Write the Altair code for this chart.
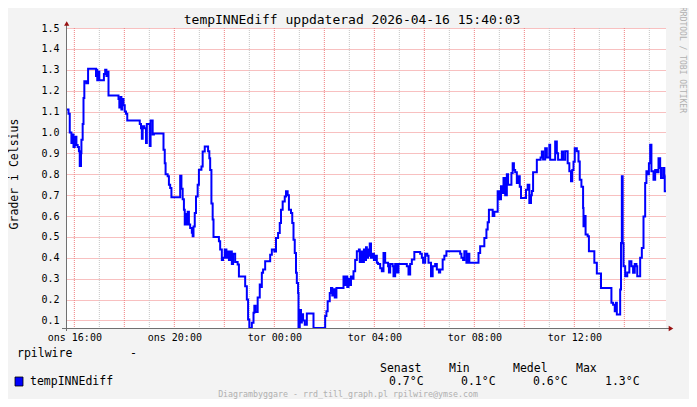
import altair as alt
import pandas as pd

FONT = "DejaVu Sans Mono"

# Minutes after 2026-04-15 15:40 and measured value (Grader i Celsius)
minutes_a = [0, 6, 9, 13, 15, 18, 21, 25, 28, 31,
             33, 36, 37, 40, 42, 44, 49, 53, 72, 73,
             75, 78, 80, 91, 94, 97, 99, 102, 126, 128,
             131, 133, 135, 138, 141, 144, 147, 177, 180, 182,
             184, 188, 192, 194, 198, 201, 203, 208, 211]
values_a = [1.11, 1.09, 1.00, 0.95, 0.99, 0.93, 0.98, 0.94, 0.93, 0.91,
            0.84, 0.90, 0.965, 1.04, 1.165, 1.245, 1.235, 1.305, 1.27, 1.30,
            1.25, 1.29, 1.25, 1.28, 1.30, 1.27, 1.29, 1.177, 1.16, 1.12,
            1.17, 1.11, 1.16, 1.13, 1.10, 1.09, 1.057, 1.04, 1.02, 0.97,
            1.03, 1.02, 0.95, 1.04, 1.04, 0.935, 1.057, 0.99, 0.995]

minutes_b = [234, 237, 239, 244, 247, 250, 253, 274, 277, 280,
             283, 285, 287, 290, 292, 295, 298, 302, 304, 306,
             309, 312, 316, 319, 325, 328, 333, 341, 344, 346,
             349, 352, 354, 367, 370, 374, 377, 381, 385, 387,
             391, 394, 398, 401, 406, 412, 415, 430, 434, 437,
             440, 446, 450, 452, 455, 460, 465, 467, 470, 473,
             478, 490, 494, 500, 504, 509, 513, 516, 520, 525,
             528, 532, 535, 540, 543, 546, 549, 552, 554, 557,
             558]
values_b = [0.917, 0.853, 0.80, 0.79, 0.75, 0.734, 0.69, 0.793, 0.73, 0.68,
            0.63, 0.56, 0.61, 0.56, 0.62, 0.56, 0.543, 0.52, 0.503, 0.55,
            0.614, 0.694, 0.75, 0.822, 0.837, 0.909, 0.933, 0.91, 0.877, 0.82,
            0.66, 0.583, 0.50, 0.479, 0.44, 0.39, 0.40, 0.44, 0.40, 0.43,
            0.39, 0.43, 0.37, 0.42, 0.38, 0.368, 0.31, 0.264, 0.20, 0.105,
            0.06, 0.089, 0.137, 0.17, 0.14, 0.21, 0.272, 0.26, 0.328, 0.344,
            0.383, 0.415, 0.44, 0.43, 0.495, 0.519, 0.567, 0.63, 0.67, 0.694,
            0.718, 0.70, 0.63, 0.614, 0.567, 0.487, 0.423, 0.328, 0.28, 0.232,
            0.06]

minutes_c = [561, 564, 566, 569, 573, 578, 594, 622, 625, 628,
             633, 636, 639, 643, 645, 649, 666, 669, 672, 675,
             678, 681, 684, 687, 690, 694, 698]
values_c = [0.15, 0.09, 0.13, 0.10, 0.08, 0.133, 0.06, 0.121, 0.144, 0.192,
            0.232, 0.256, 0.22, 0.25, 0.21, 0.256, 0.31, 0.27, 0.31, 0.26,
            0.30, 0.27, 0.31, 0.30, 0.336, 0.39, 0.431]

minutes_d = [703, 705, 709, 711, 715, 717, 720, 722, 725, 727,
             729, 732, 735, 739, 742, 746, 749, 754, 758, 762,
             766, 773, 775, 778, 784, 786, 790, 794, 798, 818,
             822, 826, 830, 836, 850, 854, 857, 862, 867, 870,
             876, 880, 886, 890, 895, 898, 904, 908, 913, 946,
             949, 953, 956, 961, 964, 968, 990, 994, 1004, 1009]
values_d = [0.44, 0.38, 0.43, 0.38, 0.44, 0.39, 0.45, 0.40, 0.44, 0.41,
            0.468, 0.40, 0.42, 0.39, 0.41, 0.376, 0.37, 0.35, 0.336, 0.423,
            0.376, 0.36, 0.33, 0.37, 0.36, 0.312, 0.37, 0.33, 0.37, 0.36,
            0.32, 0.37, 0.392, 0.428, 0.42, 0.40, 0.376, 0.42, 0.41, 0.376,
            0.312, 0.36, 0.37, 0.344, 0.33, 0.344, 0.392, 0.41, 0.431, 0.42,
            0.40, 0.39, 0.431, 0.376, 0.42, 0.376, 0.423, 0.455, 0.495, 0.535]

minutes_e = [1012, 1015, 1024, 1028, 1036, 1040, 1044, 1047, 1050, 1054,
             1058, 1061, 1069, 1072, 1075, 1078, 1082, 1086, 1089, 1092,
             1104, 1108, 1112, 1116, 1118, 1121, 1130, 1139, 1142, 1145,
             1150, 1154, 1160, 1162, 1174, 1178, 1181, 1190, 1193, 1198,
             1204, 1208, 1212, 1215, 1218, 1221, 1226, 1230, 1233, 1237,
             1241, 1242, 1244, 1247, 1252, 1255, 1268, 1274, 1284]
values_e = [0.57, 0.63, 0.60, 0.62, 0.718, 0.68, 0.742, 0.71, 0.782, 0.70,
            0.80, 0.75, 0.806, 0.853, 0.82, 0.81, 0.758, 0.79, 0.74, 0.686,
            0.726, 0.75, 0.662, 0.70, 0.72, 0.809, 0.869, 0.88, 0.909, 0.87,
            0.925, 0.88, 0.941, 0.869, 0.957, 0.90, 0.869, 0.909, 0.869, 0.91,
            0.853, 0.814, 0.766, 0.82, 0.86, 0.925, 0.91, 0.861, 0.774, 0.74,
            0.638, 0.551, 0.60, 0.511, 0.503, 0.431, 0.376, 0.325, 0.256]

minutes_f = [1309, 1313, 1317, 1320, 1322, 1330, 1332, 1334, 1336, 1338,
             1342, 1347, 1352, 1357, 1361, 1365, 1369, 1371, 1378, 1382,
             1386, 1390, 1393, 1396, 1399, 1402, 1405, 1410, 1414, 1418,
             1422, 1426, 1428, 1433, 1436, 1437, 1440]
values_f = [0.185, 0.175, 0.144, 0.185, 0.129, 0.248, 0.471, 0.79, 0.47, 0.36,
            0.312, 0.33, 0.383, 0.36, 0.328, 0.37, 0.36, 0.312, 0.40, 0.447,
            0.598, 0.758, 0.814, 0.80, 0.853, 0.941, 0.814, 0.774, 0.82, 0.81,
            0.877, 0.83, 0.782, 0.83, 0.79, 0.718, 0.718]

minutes = minutes_a + minutes_b + minutes_c + minutes_d + minutes_e + minutes_f
values = values_a + values_b + values_c + values_d + values_e + values_f
assert len(minutes) == len(values)

START = pd.Timestamp("2026-04-15 15:40:00")
END = pd.Timestamp("2026-04-16 15:40:00")

major_hours = ["2026-04-15 16:00", "2026-04-15 18:00", "2026-04-15 20:00", "2026-04-15 22:00",
               "2026-04-16 00:00", "2026-04-16 02:00", "2026-04-16 04:00", "2026-04-16 06:00",
               "2026-04-16 08:00", "2026-04-16 10:00", "2026-04-16 12:00", "2026-04-16 14:00"]
minor_hours = ["2026-04-15 17:00", "2026-04-15 19:00", "2026-04-15 21:00", "2026-04-15 23:00",
               "2026-04-16 01:00", "2026-04-16 03:00", "2026-04-16 05:00", "2026-04-16 07:00",
               "2026-04-16 09:00", "2026-04-16 11:00", "2026-04-16 13:00", "2026-04-16 15:00"]
label_hours = ["2026-04-15 16:00", "2026-04-15 20:00", "2026-04-16 00:00",
               "2026-04-16 04:00", "2026-04-16 08:00", "2026-04-16 12:00"]
weekday_sv = ["sön", "mån", "tis", "ons", "tor", "fre", "lör"]
y_ticks = [0.1, 0.2, 0.3, 0.4, 0.5, 0.6, 0.7, 0.8, 0.9, 1.0, 1.1, 1.2, 1.3, 1.4, 1.5]

title_text = "tempINNEdiff uppdaterad 2026-04-16 15:40:03"
y_title = "Grader i Celsius"
stat_names = ["Senast", "Min", "Medel", "Max"]
stat_values = ["0.7°C", "0.1°C", "0.6°C", "1.3°C"]
series_name = "tempINNEdiff"
source_name = "rpilwire"
watermark = "Diagrambyggare - rrd_till_graph.pl rpilwire@ymse.com"
side_text = "RRDTOOL / TOBI OETIKER"


def dt(ts):
    ts = pd.Timestamp(ts)
    return alt.DateTime(year=ts.year, month=ts.month, date=ts.day,
                        hours=ts.hour, minutes=ts.minute)


df = pd.DataFrame({"t": [START + pd.Timedelta(minutes=m) for m in minutes],
                   "v": values})

day_arr = "[" + ",".join("'%s'" % d for d in weekday_sv) + "]"
x_enc = alt.X(
    "t:T",
    scale=alt.Scale(domain=[dt(START), dt(END)]),
    axis=alt.Axis(values=[dt(h) for h in label_hours],
                  labelExpr=day_arr + "[day(datum.value)] + ' ' + timeFormat(datum.value, '%H:%M')",
                  grid=False, ticks=False, domain=False, title=None,
                  labelFont=FONT, labelFontSize=10, labelColor="#000000",
                  labelPadding=4, labelOverlap=False, labelFlush=False),
)
y_enc = alt.Y(
    "v:Q",
    scale=alt.Scale(domain=[0.064, 1.5], clamp=True, nice=False, zero=False),
    axis=alt.Axis(values=y_ticks, format=".1f", grid=True, gridColor="#f08080",
                  gridDash=[1, 1], gridWidth=1, ticks=False, domain=False, title=None,
                  labelFont=FONT, labelFontSize=10, labelColor="#000000",
                  labelPadding=7),
)

minor_grid = alt.Chart(pd.DataFrame({"t": pd.to_datetime(minor_hours)})).mark_rule(
    color="#c4c4c4", strokeDash=[1, 1], strokeWidth=1
).encode(x="t:T")
major_grid = alt.Chart(pd.DataFrame({"t": pd.to_datetime(major_hours)})).mark_rule(
    color="#f08080", strokeDash=[1, 1], strokeWidth=1
).encode(x="t:T")

line = alt.Chart(df).mark_line(
    color="#0000ff", strokeWidth=2, interpolate="step-after"
).encode(x=x_enc, y=y_enc)

x_axis_line = alt.Chart(pd.DataFrame({"a": [0]})).mark_rule(color="#707070", strokeWidth=1).encode(
    x=alt.value(-4), x2=alt.value(606), y=alt.value(300.5))
y_axis_line = alt.Chart(pd.DataFrame({"a": [0]})).mark_rule(color="#707070", strokeWidth=1).encode(
    x=alt.value(0.5), y=alt.value(303), y2=alt.value(-4))
arrow_up = alt.Chart(pd.DataFrame({"a": [0]})).mark_point(
    shape="triangle-up", filled=True, color="#991111", size=28, opacity=1).encode(
    x=alt.value(0.7), y=alt.value(-4.5))
arrow_right = alt.Chart(pd.DataFrame({"a": [0]})).mark_point(
    shape="triangle-right", filled=True, color="#991111", size=28, opacity=1).encode(
    x=alt.value(605), y=alt.value(300.5))


def txt(s, x, y, size, align="left", color="#000000", angle=0):
    return alt.Chart(pd.DataFrame({"s": [s]})).mark_text(
        font=FONT, fontSize=size, align=align, baseline="middle",
        color=color, angle=angle
    ).encode(x=alt.value(x), y=alt.value(y), text="s:N")


texts = [
    txt(title_text, 286, -8, 13, align="center"),
    txt(y_title, -51.5, 146, 11.5, align="center", angle=270),
    txt(source_name, -49, 326, 11.5),
    txt("-", 64, 326, 11.5),
    txt(series_name, -36, 354, 11.5),
    txt(watermark, 282, 366.5, 8.3, align="center", color="#b0b0b0"),
    txt(side_text, 616, 32, 8, align="center", color="#b0b0b0", angle=90),
]
header_x = [314, 383, 447, 510]
value_x = [323, 395, 467, 539]
for name, hx in zip(stat_names, header_x):
    texts.append(txt(name, hx, 341, 11.5))
for val, vx in zip(stat_values, value_x):
    texts.append(txt(val, vx, 354, 11.5))

legend_box = alt.Chart(pd.DataFrame({"a": [0]})).mark_rect(
    color="#0000ff", stroke="#000000", strokeWidth=0.8).encode(
    x=alt.value(-51), x2=alt.value(-43), y=alt.value(349), y2=alt.value(358))

chart = alt.layer(
    minor_grid, major_grid, line, x_axis_line, y_axis_line, arrow_up, arrow_right,
    legend_box, *texts
).properties(
    width=600, height=300,
    padding={"left": 58, "top": 20, "right": 23, "bottom": 71},
    autosize=alt.AutoSizeParams(type="none"),
    background="#f3f3f3",
).configure_view(fill="white", stroke=None)

chart.save("out.html", embed_options={"renderer": "svg", "actions": False})
